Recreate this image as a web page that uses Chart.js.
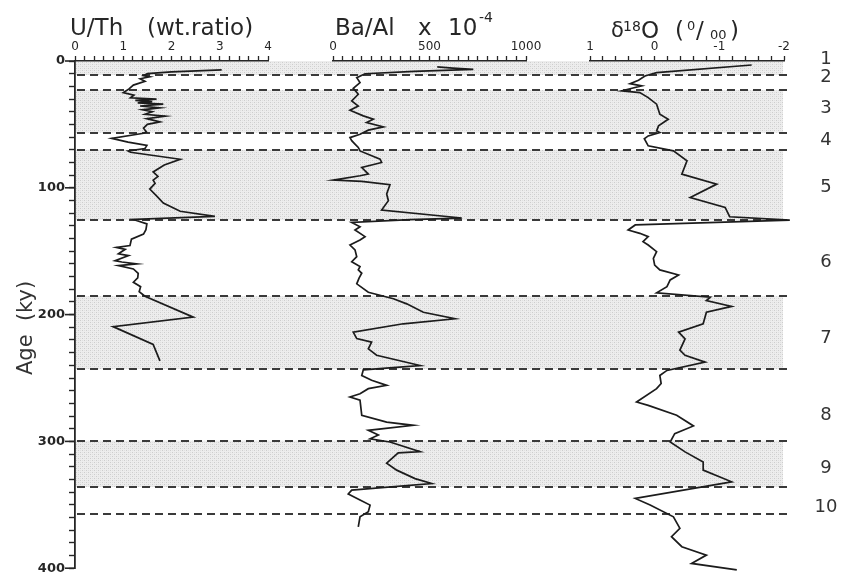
<!DOCTYPE html>
<html>
<head>
<meta charset="utf-8">
<script src="https://cdn.jsdelivr.net/npm/chart.js@4.4.1/dist/chart.umd.min.js"></script>
<style>
  html, body { margin: 0; padding: 0; background: #ffffff; }
  #wrap { position: relative; width: 843px; height: 580px; overflow: hidden; background: #ffffff; }
  #wrap canvas { position: absolute; left: 0; top: 0; }
</style>
</head>
<body>
<div id="wrap">
  <canvas id="c1" width="843" height="580"></canvas>
  <canvas id="c2" width="843" height="580"></canvas>
  <canvas id="c3" width="843" height="580"></canvas>
</div>
<script>
// ---------------- DATA ----------------
// U/Th (wt. ratio) vs age (ky)
const UTH_AGE = [7, 8.5, 10, 11.5, 12.5, 14, 16, 19, 22, 25, 27, 29, 30, 31, 32, 33, 34, 35.5, 37, 38.5, 40, 42, 43.5, 45.5, 48, 50, 53, 56, 57, 61, 64, 66.5, 69, 71, 72, 77.5, 82, 87.5, 91, 94, 96.5, 101, 106, 112, 118.5, 122.5, 125, 128.5, 133, 136.5, 140.5, 145.5, 147, 148.5, 152, 153.5, 157.5, 158.5, 160, 161.3, 164, 167.5, 171, 174.5, 178, 182, 185.5, 202, 209.5, 223.5, 236.5];
const UTH_VAL = [3.04, 2.0, 1.5, 1.42, 1.55, 1.35, 1.45, 1.21, 1.12, 1.0, 1.22, 1.15, 1.69, 1.25, 1.6, 1.3, 1.83, 1.35, 1.75, 1.4, 1.6, 1.45, 1.87, 1.49, 1.76, 1.5, 1.42, 1.48, 1.42, 0.76, 1.1, 1.49, 1.45, 1.1, 1.15, 2.18, 1.85, 1.62, 1.72, 1.62, 1.66, 1.55, 1.68, 1.83, 2.18, 2.9, 1.21, 1.49, 1.47, 1.42, 1.17, 1.14, 0.86, 1.04, 0.9, 1.11, 0.83, 0.97, 1.28, 0.9, 1.21, 1.31, 1.3, 1.21, 1.36, 1.33, 1.45, 2.45, 0.79, 1.62, 1.76];

// Ba/Al x 10^-4 vs age (ky)
const BA_AGE = [4.5, 5.5, 6.5, 8, 9.9, 13, 16.8, 21.2, 25.9, 31, 35, 38.3, 42.7, 45.3, 47.9, 51.3, 53.8, 57, 59.6, 62, 64.7, 67.3, 70, 76.4, 79, 82.9, 88, 89.3, 92.7, 93.7, 96.3, 103.5, 108.7, 116, 122.2, 123.5, 125.6, 129, 131.5, 136.7, 139.3, 143.2, 147, 152.3, 156.2, 160, 162.6, 165.2, 169, 173.4, 180, 185, 189, 195.5, 200.6, 204.5, 211, 216, 218.8, 224, 229, 237, 240.3, 244.7, 248.5, 252.4, 255, 259, 261.5, 264, 275.7, 281, 283.5, 287.4, 291, 294, 296.5, 304, 305, 313, 318.4, 325, 328.8, 334, 337, 341.7, 345.6, 350.8, 354.7, 362.5];
const BA_VAL = [540, 620, 727, 420, 166, 123, 140, 105, 131, 97, 131, 88, 157, 209, 174, 261, 183, 140, 88, 97, 114, 131, 140, 244, 252, 149, 183, 140, 2, 149, 295, 278, 287, 252, 667, 400, 97, 140, 114, 166, 140, 88, 114, 123, 97, 140, 131, 149, 135, 123, 183, 313, 382, 468, 632, 364, 105, 123, 200, 183, 226, 451, 157, 149, 200, 278, 183, 140, 88, 140, 149, 278, 416, 183, 235, 192, 295, 451, 338, 278, 330, 425, 511, 97, 79, 140, 192, 183, 140, 131];

// delta 18O (per mil) vs age (ky)
const D18O_AGE = [3.1, 9.1, 11.7, 15, 17.6, 19.4, 21.2, 23.3, 24.6, 28.5, 33.6, 41.4, 45.3, 50.5, 54.4, 55.7, 58.3, 60.5, 66, 69.9, 77.7, 88, 95.8, 106.2, 113.9, 121.2, 123.8, 127.6, 131.5, 134.1, 136.7, 140.6, 143.2, 148.4, 153.6, 158.8, 162.6, 166.5, 170.4, 175.6, 180.4, 183.8, 186.4, 191, 195.5, 204.5, 211, 216.2, 225, 229, 234.3, 240.8, 244.7, 251, 255, 265.4, 268, 275.7, 284, 290, 296.5, 304.2, 312, 318.4, 327.5, 340.4, 345.6, 354.7, 363.7, 370.2, 378, 384.5, 391, 396];
const D18O_VAL = [-1.50, -0.03, 0.15, 0.25, 0.38, 0.20, 0.35, 0.51, 0.23, 0.10, -0.03, -0.08, -0.21, -0.06, -0.03, -0.08, 0.10, 0.16, 0.10, -0.29, -0.50, -0.42, -0.96, -0.55, -1.09, -1.16, -2.09, 0.30, 0.41, 0.23, 0.10, 0.18, 0.10, -0.03, 0.02, 0.0, -0.08, -0.37, -0.24, -0.19, -0.03, -0.86, -0.80, -1.19, -0.80, -0.75, -0.37, -0.47, -0.39, -0.47, -0.78, -0.19, -0.08, -0.10, -0.03, 0.28, 0.10, -0.34, -0.60, -0.31, -0.24, -0.47, -0.75, -0.75, -1.19, 0.30, 0.07, -0.29, -0.39, -0.26, -0.42, -0.80, -0.57, -1.27];

// Isotope stage boundaries (ky), interglacial (shaded) bands, stage labels
const STAGE_BOUNDARIES = [11, 23, 56.5, 70, 125.5, 185.5, 243, 299.5, 336, 357.5];
const BAND_TOP = [0, 23, 70, 185.5, 299.5];
const BAND_BOTTOM = [11, 56.5, 125.5, 243, 336];
const STAGE_NAMES = ['1', '2', '3', '4', '5', '6', '7', '8', '9', '10'];
const STAGE_LABEL_AGES = [-1, 12.5, 37, 61.5, 98, 157, 216, 275.5, 317, 347.5];

// Axis ranges / tick labels
const AGE_MIN = 0, AGE_MAX = 400;
const AGE_MAJOR = [0, 100, 200, 300, 400];
const UTH_MIN = 0, UTH_MAX = 4;
const BA_MIN = 0, BA_MAX = 1000;
const D18O_MIN = -2, D18O_MAX = 1;

// ---------------- STYLE ----------------
const INK = '#262626';
const FONT = "'DejaVu Sans', 'Liberation Sans', sans-serif";
const BAND_RIGHT = 783;
const DASH_RIGHT = 792;

function makeStipple(ctx) {
  const c = document.createElement('canvas');
  c.width = 4; c.height = 4;
  const g = c.getContext('2d');
  g.fillStyle = '#ededed'; g.fillRect(0, 0, 4, 4);
  g.fillStyle = '#cdcdcd';
  g.fillRect(0, 0, 1, 1); g.fillRect(2, 2, 1, 1);
  g.fillStyle = '#e0e0e0';
  g.fillRect(2, 0, 1, 1); g.fillRect(0, 2, 1, 1);
  return ctx.createPattern(c, 'repeat');
}

const bandsPlugin = {
  id: 'bands',
  beforeDraw(chart) {
    const ys = chart.scales.y, ctx = chart.ctx, x0 = chart.chartArea.left;
    ctx.save();
    ctx.fillStyle = makeStipple(ctx);
    for (let i = 0; i < BAND_TOP.length; i++) {
      const t = ys.getPixelForValue(BAND_TOP[i]);
      const b = ys.getPixelForValue(BAND_BOTTOM[i]);
      ctx.fillRect(x0, t, BAND_RIGHT - x0, b - t);
    }
    ctx.strokeStyle = '#3a3a3a';
    ctx.lineWidth = 2;
    ctx.setLineDash([8, 5]);
    for (const a of STAGE_BOUNDARIES) {
      const y = Math.round(ys.getPixelForValue(a));
      ctx.beginPath();
      ctx.moveTo(x0 + 2, y);
      ctx.lineTo(DASH_RIGHT, y);
      ctx.stroke();
    }
    ctx.restore();
  },
  afterDraw(chart) {
    // longer major ticks on the age axis
    const ys = chart.scales.y, ctx = chart.ctx, x0 = chart.chartArea.left;
    ctx.save();
    ctx.strokeStyle = INK; ctx.lineWidth = 1.6;
    for (const a of AGE_MAJOR) {
      const y = ys.getPixelForValue(a);
      ctx.beginPath(); ctx.moveTo(x0 - 10, y); ctx.lineTo(x0, y); ctx.stroke();
    }
    ctx.restore();
  }
};

const titlePlugin = {
  id: 'panelTitle',
  afterDraw(chart, args, opts) {
    if (!opts || !opts.segments) return;
    const ctx = chart.ctx, x0 = chart.chartArea.left;
    ctx.save();
    ctx.fillStyle = INK;
    ctx.textBaseline = 'alphabetic';
    ctx.textAlign = 'left';
    for (const s of opts.segments) {
      ctx.font = s.size + 'px ' + FONT;
      ctx.fillText(s.text, x0 + s.dx, s.y);
    }
    ctx.restore();
  }
};

const stagePlugin = {
  id: 'stageLabels',
  afterDraw(chart, args, opts) {
    if (!opts || !opts.show) return;
    const ys = chart.scales.y, ctx = chart.ctx;
    ctx.save();
    ctx.fillStyle = '#333';
    ctx.font = '18px ' + FONT;
    ctx.textAlign = 'center';
    ctx.textBaseline = 'middle';
    for (let i = 0; i < STAGE_NAMES.length; i++) {
      ctx.fillText(STAGE_NAMES[i], 826, ys.getPixelForValue(STAGE_LABEL_AGES[i]));
    }
    ctx.restore();
  }
};

function intLabel(v) {
  const r = Math.round(v);
  return Math.abs(v - r) < 1e-6 ? String(r === 0 ? 0 : r) : '';
}

function makeXScale(min, max, step, reverse, labelFn) {
  return {
    type: 'linear', position: 'top', min: min, max: max, reverse: reverse,
    afterFit(s) { s.height = 61; },
    ticks: {
      stepSize: step, autoSkip: false, maxRotation: 0, padding: 2,
      color: INK, font: { family: FONT, size: 12 },
      callback: labelFn
    },
    grid: { drawOnChartArea: false, drawTicks: true, tickLength: 5, tickColor: INK, tickWidth: 1.3 },
    border: { display: true, color: INK, width: 1.6 }
  };
}

function makeYScale(show) {
  const s = {
    type: 'linear', position: 'left', min: AGE_MIN, max: AGE_MAX, reverse: true,
    display: show,
    ticks: {
      stepSize: 10, autoSkip: false, padding: 4, color: INK,
      font: { family: FONT, size: 13, weight: 'bold' },
      callback: v => (Math.abs(v % 100) < 1e-6 ? String(v) : '')
    },
    grid: { drawOnChartArea: false, drawTicks: true, tickLength: 6, tickColor: INK, tickWidth: 1.4 },
    border: { display: true, color: INK, width: 1.8 },
    title: {
      display: true, text: 'Age  (ky)\u00a0\u00a0\u00a0\u00a0', color: '#333',
      font: { family: FONT, size: 21 }, padding: { top: 14, bottom: 0 }
    }
  };
  if (show) s.afterFit = sc => { sc.width = 75; };
  return s;
}

function toPoints(ages, vals) {
  return ages.map((a, i) => ({ x: vals[i], y: a }));
}

function makeChart(id, ages, vals, xScale, showY, padding, segments, showStages, withBands) {
  const plugins = [titlePlugin, stagePlugin];
  if (withBands) plugins.unshift(bandsPlugin);
  return new Chart(document.getElementById(id), {
    type: 'line',
    data: {
      datasets: [{
        data: toPoints(ages, vals),
        borderColor: '#1c1c1c', borderWidth: 1.7,
        pointRadius: 0, tension: 0, fill: false, clip: false
      }]
    },
    options: {
      indexAxis: 'y',
      responsive: false, animation: false, devicePixelRatio: 1,
      layout: { padding: padding },
      scales: { x: xScale, y: makeYScale(showY) },
      plugins: {
        legend: { display: false }, tooltip: { enabled: false }, title: { display: false },
        panelTitle: { segments: segments },
        stageLabels: { show: showStages }
      },
      events: []
    },
    plugins: plugins
  });
}

// Panel 1: U/Th
makeChart('c1', UTH_AGE, UTH_VAL,
  makeXScale(UTH_MIN, UTH_MAX, 0.2, false, intLabel),
  true, { left: 0, right: 575, top: 0, bottom: 5 },
  [
    { text: 'U/Th', dx: -5, y: 35, size: 23 },
    { text: '(wt.ratio)', dx: 72, y: 35, size: 23 }
  ], false, true);

// Panel 2: Ba/Al
makeChart('c2', BA_AGE, BA_VAL,
  makeXScale(BA_MIN, BA_MAX, 50, false, v => (v % 500 === 0 ? String(v) : '')),
  false, { left: 333, right: 317, top: 0, bottom: 5 },
  [
    { text: 'Ba/Al', dx: 2, y: 35, size: 23 },
    { text: 'x', dx: 85, y: 35, size: 23 },
    { text: '10', dx: 115, y: 35, size: 23 },
    { text: '-4', dx: 146, y: 22, size: 14 }
  ], false, false);

// Panel 3: delta 18O
makeChart('c3', D18O_AGE, D18O_VAL,
  makeXScale(D18O_MIN, D18O_MAX, 0.2, true, intLabel),
  false, { left: 590, right: 59, top: 0, bottom: 5 },
  [
    { text: 'δ', dx: 21, y: 37, size: 21 },
    { text: '18', dx: 33, y: 31, size: 14 },
    { text: 'O', dx: 51, y: 38, size: 23 },
    { text: '(', dx: 85, y: 38, size: 23 },
    { text: '0', dx: 97, y: 30, size: 13 },
    { text: '/', dx: 106, y: 38, size: 23 },
    { text: '00', dx: 120, y: 39, size: 13 },
    { text: ')', dx: 140, y: 38, size: 23 }
  ], true, false);
</script>
</body>
</html>
